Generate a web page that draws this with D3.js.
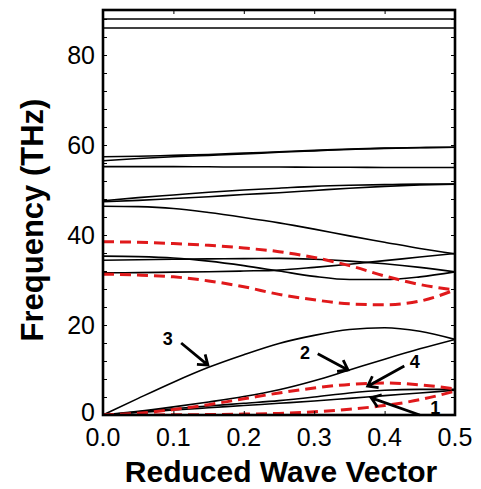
<!DOCTYPE html>
<html>
<head>
<meta charset="utf-8">
<script src="https://cdn.jsdelivr.net/npm/d3@7"></script>
<style>
  html, body { margin: 0; padding: 0; background: #fff; }
  svg { display: block; }
  text { font-family: "Liberation Sans", Arial, Helvetica, sans-serif; }
</style>
</head>
<body>
<div id="chart"></div>
<script>
// ---------- data ----------
const qGrid = [0, 0.05, 0.1, 0.15, 0.2, 0.25, 0.3, 0.35, 0.4, 0.45, 0.5];

// solid (black) branches
const band88 = [88, 88, 88, 88, 88, 88, 88, 88, 88, 88, 88];
const band86 = [86, 86, 86, 86, 86, 86, 86, 86, 86, 86, 86];
const band59a = [57.4, 57.5, 57.7, 57.9, 58.2, 58.5, 58.8, 59.1, 59.3, 59.45, 59.5];
const band59b = [56.5, 57.0, 57.4, 57.7, 58.0, 58.4, 58.7, 59.0, 59.25, 59.4, 59.5];
const band55 = [55.2, 55.2, 55.2, 55.15, 55.1, 55.1, 55.05, 55.05, 55.0, 55.0, 55.0];
const band51a = [47.6, 48.3, 48.9, 49.5, 50.0, 50.4, 50.8, 51.05, 51.2, 51.3, 51.3];
const band51b = [47.4, 47.7, 48.1, 48.5, 49.0, 49.4, 49.9, 50.4, 50.8, 51.1, 51.3];
const band46 = [46.4, 46.3, 45.9, 45.0, 43.9, 42.7, 41.3, 39.8, 38.4, 37.0, 35.8];
const band35 = [35.3, 35.2, 34.9, 34.2, 33.2, 32.0, 30.8, 30.1, 30.1, 30.7, 31.8];
const band34 = [34.4, 34.5, 34.6, 34.7, 34.75, 34.8, 34.6, 34.2, 33.6, 32.8, 31.8];
const band31 = [31.6, 31.65, 31.75, 31.85, 32.0, 32.2, 32.8, 33.5, 34.3, 35.1, 35.9];
const branch3 = [0, 3.7, 7.3, 10.6, 13.4, 15.9, 17.7, 19.0, 19.4, 18.6, 16.8];
const branch2 = [0, 0.8, 1.8, 2.9, 4.1, 5.6, 7.6, 10.0, 12.4, 14.7, 16.8];
const branchA = [0, 0.7, 1.4, 2.0, 2.6, 3.2, 4.0, 4.9, 5.5, 5.7, 5.7];
const branchB = [0, 0.55, 1.1, 1.6, 2.1, 2.6, 3.1, 3.7, 4.3, 4.9, 5.5];

// dashed (red) branches
const red38 = [38.5, 38.4, 38.1, 37.7, 37.1, 36.3, 35.0, 33.2, 30.9, 29.0, 27.8];
const red31 = [31.3, 31.1, 30.7, 29.8, 28.5, 26.8, 25.6, 24.7, 24.5, 25.3, 27.8];
const red4 = [0, 0.4, 1.2, 2.3, 3.6, 4.9, 6.0, 6.8, 7.1, 6.7, 5.8];
const red1 = [0, 0, 0.05, 0.1, 0.2, 0.35, 0.7, 1.3, 2.1, 3.4, 5.3];

const solidBands = [band88, band86, band59a, band59b, band55, band51a, band51b,
  band46, band35, band34, band31, branch3, branch2, branchA, branchB];
const dashedBands = [red38, red31, red4, red1];

// annotation labels: text position and arrow (from -> to), in data units
const labelTexts = ["3", "2", "4", "1"];
const labelPos = [[0.092, 17.1], [0.287, 13.8], [0.443, 11.8], [0.472, 1.6]];
const arrowFrom = [[0.111, 16.0], [0.305, 13.6], [0.428, 10.9], [0.450, 0.0]];
const arrowTo = [[0.149, 11.1], [0.348, 10.0], [0.376, 6.4], [0.381, 3.8]];

const xTicks = [0.0, 0.1, 0.2, 0.3, 0.4, 0.5];
const yTicks = [0, 20, 40, 60, 80];
const xTitle = "Reduced Wave Vector";
const yTitle = "Frequency (THz)";

// ---------- layout ----------
const W = 481, H = 489;
const mLeft = 103, mRight = 455, mTop = 10, mBottom = 415;

const svg = d3.select("#chart").append("svg")
  .attr("width", W).attr("height", H);

const x = d3.scaleLinear().domain([0, 0.5]).range([mLeft, mRight]);
const y = d3.scaleLinear().domain([0, 90]).range([mBottom, mTop]);

const line = d3.line()
  .x((d, i) => x(qGrid[i]))
  .y(d => y(d))
  .curve(d3.curveMonotoneX);

svg.append("clipPath").attr("id", "clip")
  .append("rect").attr("x", mLeft).attr("y", mTop)
  .attr("width", mRight - mLeft).attr("height", mBottom - mTop);

const plot = svg.append("g").attr("clip-path", "url(#clip)");

plot.selectAll("path.solid").data(solidBands).enter().append("path")
  .attr("class", "solid")
  .attr("d", line)
  .attr("fill", "none")
  .attr("stroke", "#000")
  .attr("stroke-width", 1.6);

plot.selectAll("path.dashed").data(dashedBands).enter().append("path")
  .attr("class", "dashed")
  .attr("d", line)
  .attr("fill", "none")
  .attr("stroke", "#e0191b")
  .attr("stroke-width", 3)
  .attr("stroke-dasharray", "11,6");

// ---------- axes (ticks inside, both sides) ----------
const yMinor = d3.range(4, 90, 4);
const xAxisB = d3.axisBottom(x).tickValues(xTicks).tickSize(-4).tickFormat("");
const xAxisT = d3.axisTop(x).tickValues(xTicks).tickSize(-4).tickFormat("");
const yAxisL = d3.axisLeft(y).tickValues(yMinor).tickSize(-4).tickFormat("");
const yAxisR = d3.axisRight(y).tickValues(yMinor).tickSize(-4).tickFormat("");

function styleAxis(g) {
  g.select(".domain").remove();
  g.selectAll(".tick line").attr("stroke", "#000").attr("stroke-width", 1);
}
svg.append("g").attr("transform", `translate(0,${mBottom})`).call(xAxisB).call(styleAxis);
svg.append("g").attr("transform", `translate(0,${mTop})`).call(xAxisT).call(styleAxis);
svg.append("g").attr("transform", `translate(${mLeft},0)`).call(yAxisL).call(styleAxis);
svg.append("g").attr("transform", `translate(${mRight},0)`).call(yAxisR).call(styleAxis);

// tick labels
svg.append("g").selectAll("text").data(xTicks).enter().append("text")
  .attr("x", d => x(d)).attr("y", 446)
  .attr("text-anchor", "middle")
  .attr("font-size", 25)
  .text(d => d3.format(".1f")(d));

svg.append("g").selectAll("text").data(yTicks).enter().append("text")
  .attr("x", 95).attr("y", d => y(d) - (d === 0 ? 3 : 0))
  .attr("dy", "0.36em")
  .attr("text-anchor", "end")
  .attr("font-size", 25)
  .text(d => d);

// frame
svg.append("rect")
  .attr("x", mLeft).attr("y", mTop)
  .attr("width", mRight - mLeft).attr("height", mBottom - mTop)
  .attr("fill", "none").attr("stroke", "#000").attr("stroke-width", 2.6);

// titles
svg.append("text")
  .attr("x", 281).attr("y", 482)
  .attr("text-anchor", "middle")
  .attr("font-size", 30).attr("font-weight", "bold")
  .text(xTitle);

svg.append("text")
  .attr("transform", `translate(43,220) rotate(-90)`)
  .attr("text-anchor", "middle")
  .attr("font-size", 31).attr("font-weight", "bold")
  .text(yTitle);

// ---------- annotations ----------
const ann = svg.append("g");
labelTexts.forEach((t, i) => {
  ann.append("text")
    .attr("x", x(labelPos[i][0])).attr("y", y(labelPos[i][1]))
    .attr("dy", "0.36em")
    .attr("text-anchor", "middle")
    .attr("font-size", 18).attr("font-weight", "bold")
    .text(t);
  const x0 = x(arrowFrom[i][0]), y0 = y(arrowFrom[i][1]);
  const x1 = x(arrowTo[i][0]), y1 = y(arrowTo[i][1]);
  const ang = Math.atan2(y1 - y0, x1 - x0);
  const L = 11, a = Math.PI / 5;
  const p = d3.path();
  p.moveTo(x0, y0); p.lineTo(x1, y1);
  p.moveTo(x1 - L * Math.cos(ang - a), y1 - L * Math.sin(ang - a));
  p.lineTo(x1, y1);
  p.lineTo(x1 - L * Math.cos(ang + a), y1 - L * Math.sin(ang + a));
  ann.append("path").attr("d", p.toString())
    .attr("fill", "none").attr("stroke", "#000")
    .attr("stroke-width", 2.8).attr("stroke-linecap", "butt")
    .attr("stroke-linejoin", "miter");
});
</script>
</body>
</html>
